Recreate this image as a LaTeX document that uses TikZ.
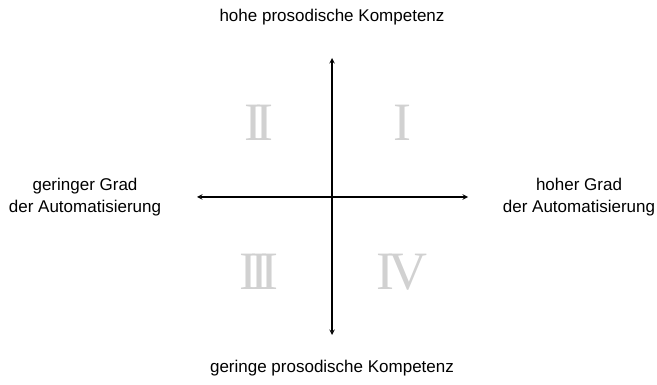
\documentclass[tikz,border=0pt]{standalone}
\usepackage{fontspec}
\setmainfont{Liberation Sans}
\newfontfamily\numfont{Liberation Serif}
\usepackage{tikz}
\usetikzlibrary{arrows}
\tikzstyle{arrow} = [<->,>=stealth,line width=1.4pt]
\tikzstyle{label} = [font=\fontsize{17}{22}\selectfont,align=center,inner sep=0pt]
\tikzstyle{quadrant} = [font=\numfont\fontsize{54}{54}\selectfont,text=black!18,inner sep=0pt]

\begin{document}
\begin{tikzpicture}[x=1pt,y=-1pt]
    \useasboundingbox (0,0) rectangle (657,385);
    \def\cx{332}
    \def\cy{197}
    \coordinate (O) at (\cx,\cy);
    % axis ends
    \coordinate (top) at (\cx,58);
    \coordinate (bottom) at (\cx,335);
    \coordinate (left) at (197,\cy);
    \coordinate (right) at (468,\cy);
    \draw[arrow] (bottom) -- (top);
    \draw[arrow] (left) -- (right);
    % axis labels
    \node[label,anchor=base] (hoch) at (\cx,22) {hohe prosodische Kompetenz};
    \node[label,anchor=base] (gering) at (\cx,372) {geringe prosodische Kompetenz};
    \node[label] (links) at (85,\cy) {geringer Grad\\der Automatisierung};
    \node[label] (rechts) at (579,\cy) {hoher Grad\\der Automatisierung};
    % quadrants
    \node[quadrant] (q1) at (402,123) {I};
    \node[quadrant] (q2) at (259,123) {I\kern-0.14em I};
    \node[quadrant] (q3) at (259,272) {I\kern-0.14em I\kern-0.14em I};
    \node[quadrant] (q4) at (402,272) {I\kern-0.12em V};
\end{tikzpicture}
\end{document}
